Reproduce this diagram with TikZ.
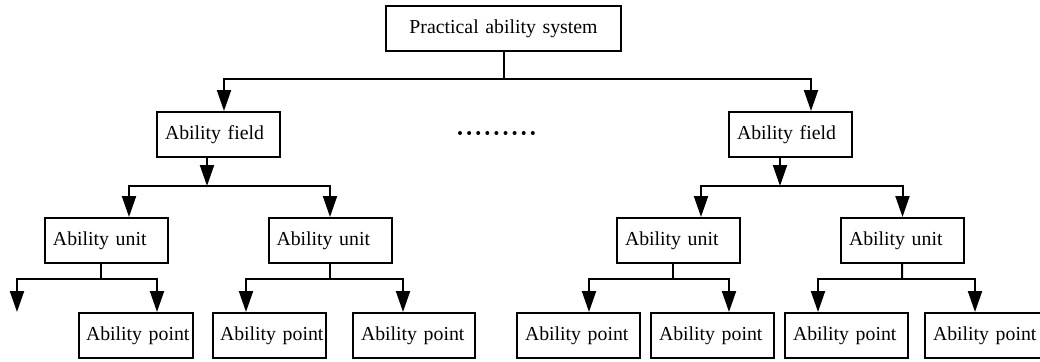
\documentclass[tikz,border=0pt]{standalone}
\usepackage{fontspec}
\setmainfont{Liberation Serif}
\usetikzlibrary{arrows.meta}

\tikzset{
  abox/.style={draw, line width=1pt, minimum height=22.5pt, text width=#1,
    inner xsep=4pt, inner ysep=0pt, align=left, font=\fontsize{9.9}{12}\selectfont},
  abox/.default=53.5pt,
  link/.style={line width=1pt},
  arr/.style={line width=1pt, -{Triangle[width=7pt,length=10.5pt]}},
}

\begin{document}
\begin{tikzpicture}[x=0.5pt, y=-0.5pt]
    \useasboundingbox (0,0) rectangle (1040,361);
    % top level
    \node[abox=109.5pt, align=center] (sys) at (503.5,28.5) {Practical ability system};
    \node[abox] (fieldL) at (218.5,134.5) {\mbox{Ability field}};
    \node[abox] (fieldR) at (790.5,134.5) {\mbox{Ability field}};
    % units
    \node[abox] (unitA) at (106.5,240.5) {\mbox{Ability unit}};
    \node[abox] (unitB) at (330,240.5) {\mbox{Ability unit}};
    \node[abox] (unitC) at (678.5,240.5) {\mbox{Ability unit}};
    \node[abox] (unitD) at (902.5,240.5) {\mbox{Ability unit}};
    % points
    \node[abox=50pt, inner xsep=3.5pt] (pA) at (136,335.5) {\mbox{Ability point}};
    \node[abox=49.5pt, inner xsep=3.5pt] (pB) at (269.5,335.5) {\mbox{Ability point}};
    \node[abox=53pt] (pC) at (414,335.5) {\mbox{Ability point}};
    \node[abox] (pD) at (578.5,335.5) {\mbox{Ability point}};
    \node[abox] (pE) at (712.5,335.5) {\mbox{Ability point}};
    \node[abox] (pF) at (846.5,335.5) {\mbox{Ability point}};
    \node[abox] (pG) at (986.5,335.5) {\mbox{Ability point}};

    % bus points
    \coordinate (b0) at (503.5,79);
    \coordinate (bL) at (207,186);
    \coordinate (bR) at (780,186);
    \coordinate (bA) at (101,279);
    \coordinate (bB) at (330,279);
    \coordinate (bC) at (673,279);
    \coordinate (bD) at (902,279);
    \coordinate (loose) at (17,312);

    \draw[link] (sys) -- (b0);
    \draw[arr] (b0) -| ([xshift=2.75pt]fieldL.north);
    \draw[arr] (b0) -| ([xshift=10.25pt]fieldR.north);

    \draw[arr] ([xshift=-5.75pt]fieldL.south) -- (bL);
    \draw[arr] (bL) -| ([xshift=11.25pt]unitA.north);
    \draw[arr] (bL) -| (unitB.north);
    \draw[arr] ([xshift=-5.25pt]fieldR.south) -- (bR);
    \draw[arr] (bR) -| ([xshift=11.25pt]unitC.north);
    \draw[arr] (bR) -| (unitD.north);

    \draw[link] ([xshift=-2.75pt]unitA.south) -- (bA);
    \draw[arr] (bA) -| (loose);
    \draw[arr] (bA) -| ([xshift=10.5pt]pA.north);
    \draw[link] (unitB) -- (bB);
    \draw[arr] (bB) -| ([xshift=-11.75pt]pB.north);
    \draw[arr] (bB) -| ([xshift=-5.5pt]pC.north);
    \draw[link] ([xshift=-2.75pt]unitC.south) -- (bC);
    \draw[arr] (bC) -| ([xshift=5.25pt]pD.north);
    \draw[arr] (bC) -| ([xshift=8.25pt]pE.north);
    \draw[link] (unitD) -- (bD);
    \draw[arr] (bD) -| ([xshift=-14.25pt]pF.north);
    \draw[arr] (bD) -| ([xshift=-5.75pt]pG.north);

    % the dots between the two fields
    \foreach \i in {0,...,8}
      \fill (460+9.1*\i,133) circle (1pt);
\end{tikzpicture}
\end{document}
